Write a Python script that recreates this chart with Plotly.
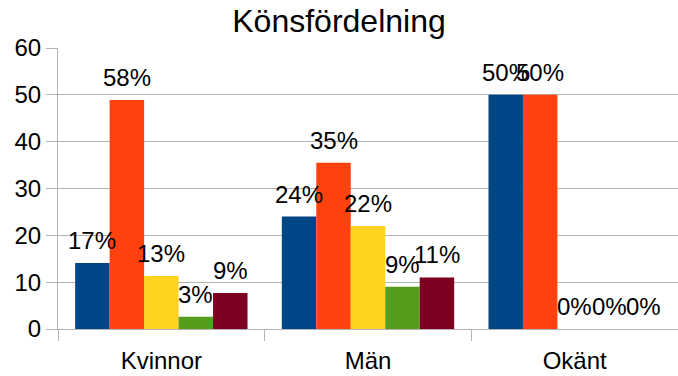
import plotly.graph_objects as go

categories = ["Kvinnor", "Män", "Okänt"]
series_colors = ["#004586", "#ff420e", "#ffd320", "#579d1c", "#7e0021"]

# One list per series: values for Kvinnor, Män, Okänt
serie1 = [14.1, 24.0, 50.0]
serie2 = [48.9, 35.5, 50.0]
serie3 = [11.3, 22.0, 0.0]
serie4 = [2.6, 9.0, 0.0]
serie5 = [7.7, 11.0, 0.0]

# Share of each value within its category, shown above the bars
labels1 = ["17%", "24%", "50%"]
labels2 = ["58%", "35%", "50%"]
labels3 = ["13%", "22%", "0%"]
labels4 = ["3%", "9%", "0%"]
labels5 = ["9%", "11%", "0%"]

series = [serie1, serie2, serie3, serie4, serie5]
labels = [labels1, labels2, labels3, labels4, labels5]

BARGAP = 0.166
n_series = len(series)
bar_w = (1 - BARGAP) / n_series  # bar width in category units

fig = go.Figure()
for vals, col in zip(series, series_colors):
    fig.add_trace(go.Bar(
        x=categories, y=vals, marker=dict(color=col, line=dict(width=0)),
        showlegend=False,
    ))

# Percentage labels centred above each bar
for s, (vals, labs) in enumerate(zip(series, labels)):
    offset = (s - (n_series - 1) / 2) * bar_w
    for c, (v, t) in enumerate(zip(vals, labs)):
        fig.add_annotation(
            x=c + offset, y=v, xref="x", yref="y", text=t, showarrow=False,
            xanchor="center", yanchor="bottom", yshift=7,
            font=dict(family="Liberation Sans", size=24, color="#000000"),
        )

fig.update_layout(
    width=678, height=376,
    margin=dict(l=58, r=0, t=48, b=47),
    paper_bgcolor="white", plot_bgcolor="white",
    barmode="group", bargap=BARGAP, bargroupgap=0,
    font=dict(family="Liberation Sans", size=24, color="#000000"),
    title=dict(text="Könsfördelning", x=0.5, xanchor="center",
               y=1 - 21 / 376, yanchor="middle",
               font=dict(family="Liberation Sans", size=32, color="#000000")),
)
fig.update_yaxes(
    range=[0, 60], dtick=10, showgrid=True, gridcolor="#b3b3b3", gridwidth=1,
    showline=True, linecolor="#b3b3b3", linewidth=1,
    ticks="outside", ticklen=11, tickcolor="#b3b3b3",
    zeroline=False,
    tickfont=dict(family="Liberation Sans", size=24, color="#000000"),
)
fig.update_xaxes(
    showline=True, linecolor="#b3b3b3", linewidth=1,
    ticks="outside", tickson="boundaries", ticklen=11, tickcolor="#b3b3b3",
    ticklabelstandoff=10,
    tickfont=dict(family="Liberation Sans", size=24, color="#000000"),
)

fig.write_html("out.html")
